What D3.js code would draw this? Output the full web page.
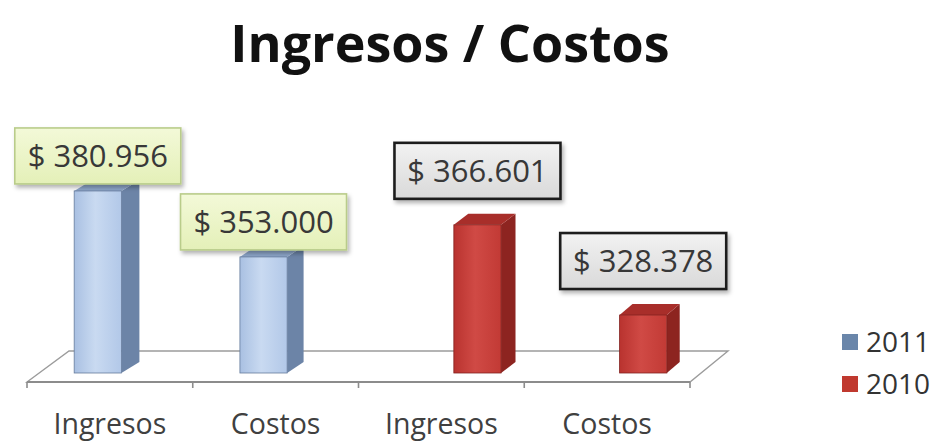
<!DOCTYPE html>
<html>
<head>
<meta charset="utf-8">
<script src="https://cdn.jsdelivr.net/npm/d3@7"></script>
<style>
  html, body { margin: 0; padding: 0; background: #ffffff; }
  svg { display: block; }
</style>
</head>
<body>
<svg id="chart" width="940" height="442"></svg>
<script>
// ---- data ----
const title = "Ingresos / Costos";
const categories = ["Ingresos", "Costos", "Ingresos", "Costos"];
const seriesNames = ["2011", "2010"];
const values2011 = [380956, 353000, null, null];
const values2010 = [null, null, 366601, 328378];
const axisMin = 300000;
const axisMax = 400000;

// ---- look ----
const W = 940, H = 442;
const floorFront = { x0: 27, x1: 690, y: 382 };   // front edge of the 3D floor
const floorDepth = { dx: 42, dy: -31 };           // offset from front to back edge
const barShift = { dx: 12, dy: -9 };              // where the bar front faces sit inside the floor
const seriesStyle = {
  "2011": { front: ["#a9c0e2", "#c9daf1", "#b2c8e8"], side: "#6c84a7", top: "#8ea7cb",
            legend: "#6a86aa", boxFill: ["#f3f9d8", "#e4f0b8"], boxStroke: "#b9cc8a", boxStrokeW: 1.6,
            labelLift: 35 },
  "2010": { front: ["#b9332f", "#d04a45", "#c23a35"], side: "#8d2420", top: "#a82e2a",
            legend: "#c0392f", boxFill: ["#f2f2f2", "#d9d9d9"], boxStroke: "#1e1e1e", boxStrokeW: 2.6,
            labelLift: 54 }
};

const es = d3.formatLocale({ decimal: ",", thousands: ".", grouping: [3], currency: ["$ ", ""] });
const money = es.format("$,.0f");

const svg = d3.select("#chart");
const defs = svg.append("defs");

// drop shadow for the value callouts
const shadow = defs.append("filter").attr("id", "shadow")
  .attr("x", "-10%").attr("y", "-10%").attr("width", "130%").attr("height", "140%");
shadow.append("feDropShadow").attr("dx", 2).attr("dy", 3).attr("stdDeviation", 2)
  .attr("flood-color", "#000").attr("flood-opacity", 0.3);

// gradients for the bar fronts and the label boxes
seriesNames.forEach(s => {
  const st = seriesStyle[s];
  const g = defs.append("linearGradient").attr("id", "front" + s)
    .attr("x1", 0).attr("x2", 1).attr("y1", 0).attr("y2", 0);
  g.append("stop").attr("offset", "0%").attr("stop-color", st.front[0]);
  g.append("stop").attr("offset", "45%").attr("stop-color", st.front[1]);
  g.append("stop").attr("offset", "100%").attr("stop-color", st.front[2]);
  const b = defs.append("linearGradient").attr("id", "box" + s)
    .attr("x1", 0).attr("x2", 0).attr("y1", 0).attr("y2", 1);
  b.append("stop").attr("offset", "0%").attr("stop-color", st.boxFill[0]);
  b.append("stop").attr("offset", "100%").attr("stop-color", st.boxFill[1]);
});

// ---- scales ----
const x = d3.scaleBand().domain(d3.range(categories.length))
  .range([floorFront.x0, floorFront.x1]);
const xs = d3.scaleBand().domain(seriesNames)
  .range([0, x.bandwidth()]).paddingInner(0.02).paddingOuter(0.73);
const y = d3.scaleLinear().domain([axisMin, axisMax]).range([floorFront.y, floorFront.y - 236]);

// ---- floor ----
const fb = floorFront, fd = floorDepth;
svg.append("path")
  .attr("d", `M${fb.x0},${fb.y} L${fb.x0 + fd.dx},${fb.y + fd.dy} L${fb.x1 + fd.dx - 4},${fb.y + fd.dy} L${fb.x1},${fb.y} Z`)
  .attr("fill", "#ffffff").attr("stroke", "#9c9c9c").attr("stroke-width", 1.4);
svg.append("line")
  .attr("x1", fb.x0).attr("x2", fb.x1).attr("y1", fb.y).attr("y2", fb.y)
  .attr("stroke", "#8c8c8c").attr("stroke-width", 2);
// category tick marks on the front edge
const tickXs = x.domain().map(i => x(i)).concat([fb.x1]);
svg.selectAll("line.tick").data(tickXs).join("line")
  .attr("class", "tick")
  .attr("x1", d => d).attr("x2", d => d)
  .attr("y1", fb.y).attr("y2", fb.y + 6)
  .attr("stroke", "#8c8c8c").attr("stroke-width", 1.6);

// ---- bars ----
const bars = [];
categories.forEach((c, i) => {
  [["2011", values2011[i]], ["2010", values2010[i]]].forEach(([s, v]) => {
    if (v == null) return;
    bars.push({ i, s, v });
  });
});

const barW = xs.bandwidth();
bars.forEach(d => {
  d.x0 = x(d.i) + xs(d.s) + barShift.dx;
  d.x1 = d.x0 + barW;
  d.top = y(d.v);
  d.bottom = floorFront.y + barShift.dy;
  d.sdx = 18 - (d.x0 - 75) * 0.0094;  // side face narrows towards the right
  d.sdy = -11;
});

const gBars = svg.append("g");
bars.forEach(d => {
  const st = seriesStyle[d.s];
  // side face
  gBars.append("path")
    .attr("d", `M${d.x1},${d.top} L${d.x1 + d.sdx},${d.top + d.sdy} L${d.x1 + d.sdx},${d.bottom + d.sdy} L${d.x1},${d.bottom} Z`)
    .attr("fill", st.side);
  // top face
  gBars.append("path")
    .attr("d", `M${d.x0},${d.top} L${d.x0 + d.sdx},${d.top + d.sdy} L${d.x1 + d.sdx},${d.top + d.sdy} L${d.x1},${d.top} Z`)
    .attr("fill", st.top);
  // front face
  gBars.append("rect")
    .attr("x", d.x0).attr("y", d.top)
    .attr("width", barW).attr("height", d.bottom - d.top)
    .attr("fill", `url(#front${d.s})`)
    .attr("stroke", d3.color(st.side).darker(0.2)).attr("stroke-width", 0.8);
});

// ---- value callouts ----
const boxW = 166, boxH = 56;
const gLabels = svg.append("g");
bars.forEach(d => {
  const st = seriesStyle[d.s];
  const cx = d.x0 + barW / 2;
  const cy = d.top - st.labelLift;
  gLabels.append("rect")
    .attr("x", cx - boxW / 2).attr("y", cy - boxH / 2)
    .attr("width", boxW).attr("height", boxH)
    .attr("fill", `url(#box${d.s})`)
    .attr("stroke", st.boxStroke).attr("stroke-width", st.boxStrokeW)
    .attr("filter", "url(#shadow)");
  gLabels.append("text")
    .attr("x", cx).attr("y", cy + 11)
    .attr("text-anchor", "middle")
    .attr("font-family", "'Open Sans', sans-serif")
    .attr("font-size", 31)
    .attr("fill", "#383838")
    .text(money(d.v));
});

// ---- category labels ----
svg.append("g").selectAll("text").data(categories).join("text")
  .attr("x", (d, i) => x(i) + x.bandwidth() / 2)
  .attr("y", 434)
  .attr("text-anchor", "middle")
  .attr("font-family", "'Open Sans', sans-serif")
  .attr("font-size", 28.5)
  .attr("fill", "#404040")
  .text(d => d);

// ---- legend ----
const legend = svg.append("g").attr("transform", "translate(842,334)");
seriesNames.forEach((s, k) => {
  const row = legend.append("g").attr("transform", `translate(0,${k * 42})`);
  row.append("rect").attr("x", 0).attr("y", 0).attr("width", 16).attr("height", 16)
    .attr("fill", seriesStyle[s].legend);
  row.append("text").attr("x", 24).attr("y", 18)
    .attr("font-family", "'Open Sans', sans-serif")
    .attr("font-size", 28)
    .attr("fill", "#333")
    .text(s);
});

// ---- title ----
svg.append("text")
  .attr("x", 450).attr("y", 62)
  .attr("text-anchor", "middle")
  .attr("font-family", "'Open Sans', sans-serif")
  .attr("font-weight", "bold")
  .attr("font-size", 52)
  .attr("fill", "#111")
  .text(title);
</script>
</body>
</html>
